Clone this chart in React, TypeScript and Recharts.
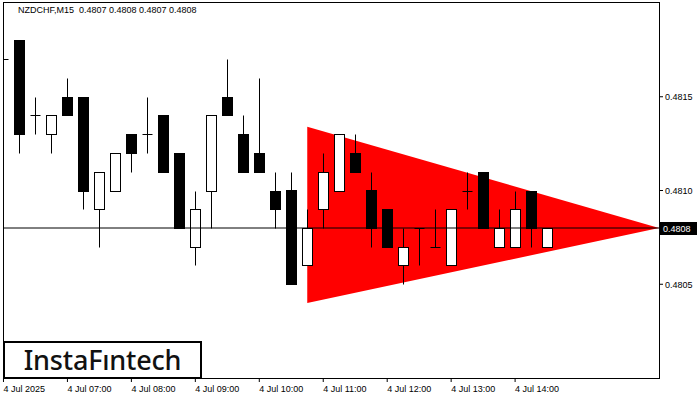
import React from 'react';
import { ComposedChart, Bar, Area, XAxis, YAxis, ReferenceLine } from 'recharts';

// NZDCHF M15 candles, 06:00 .. 14:30
const opens = [
  0.4817, 0.4818, 0.4814, 0.4813, 0.4815, 0.4815, 0.4809, 0.4810, 0.4813, 0.4813,
  0.4814, 0.4812, 0.4807, 0.4810, 0.4815, 0.4813, 0.4812, 0.4810, 0.4810, 0.4806,
  0.4809, 0.4810, 0.4812, 0.4810, 0.4809, 0.4806, 0.4808, 0.4807, 0.4806, 0.4810,
  0.4811, 0.4807, 0.4807, 0.4810, 0.4807,
];
const highs = [
  0.4818, 0.4818, 0.4815, 0.4814, 0.4816, 0.4815, 0.4811, 0.4812, 0.4813, 0.4815,
  0.4814, 0.4812, 0.4810, 0.4814, 0.4817, 0.4814, 0.4816, 0.4811, 0.4811, 0.4809,
  0.4812, 0.4813, 0.4813, 0.4811, 0.4809, 0.4808, 0.4808, 0.4809, 0.4809, 0.4811,
  0.4811, 0.4809, 0.4810, 0.4810, 0.4808,
];
const lows = [
  0.4816, 0.4812, 0.4813, 0.4812, 0.4814, 0.4809, 0.4807, 0.4810, 0.4811, 0.4812,
  0.4811, 0.4808, 0.4806, 0.4808, 0.4814, 0.4811, 0.4811, 0.4808, 0.4805, 0.4806,
  0.4808, 0.4810, 0.4811, 0.4807, 0.4807, 0.4805, 0.4806, 0.4807, 0.4806, 0.4809,
  0.4808, 0.4807, 0.4807, 0.4807, 0.4807,
];
const closes = [
  0.4817, 0.4813, 0.4814, 0.4814, 0.4814, 0.4810, 0.4811, 0.4812, 0.4812, 0.4813,
  0.4811, 0.4808, 0.4809, 0.4814, 0.4814, 0.4811, 0.4811, 0.4809, 0.4805, 0.4808,
  0.4811, 0.4813, 0.4811, 0.4808, 0.4807, 0.4807, 0.4808, 0.4807, 0.4809, 0.4810,
  0.4808, 0.4808, 0.4809, 0.4808, 0.4808,
];

const hourTicks = [0, 4, 8, 12, 16, 20, 24, 28, 32];
const hourLabels = [
  '4 Jul 2025', '4 Jul 07:00', '4 Jul 08:00', '4 Jul 09:00', '4 Jul 10:00',
  '4 Jul 11:00', '4 Jul 12:00', '4 Jul 13:00', '4 Jul 14:00',
];

const priceTicks = [0.4805, 0.4808, 0.481, 0.4815];
const lastPrice = 0.4808;

// bearish triangle pattern
const triStart = 19;
const triEnd = 41;
const triTop = 0.48134;
const triBottom = 0.4804;

const candles = opens.map((o, i) => ({
  i,
  open: o,
  high: highs[i],
  low: lows[i],
  close: closes[i],
  range: [lows[i], highs[i]],
}));

const triangle = [
  { i: triStart, band: [triBottom, triTop] },
  { i: triEnd, band: [lastPrice, lastPrice] },
];

const FONT = '"Liberation Sans", Arial, sans-serif';

const Candle = (props: any) => {
  const { x, y, width, height, payload } = props;
  if (!payload || height == null) return null;
  const { open, close, high, low } = payload;
  const k = height / (high - low);
  const py = (v: number) => y + (high - v) * k;
  const cx = Math.round(x + width / 2) + 0.5;
  const left = Math.round(x) + 0.5;
  const w = Math.round(width);
  const top = Math.round(py(Math.max(open, close))) + 0.5;
  const bot = Math.round(py(Math.min(open, close))) + 0.5;
  const hi = Math.round(py(high)) + 0.5;
  const lo = Math.round(py(low)) + 0.5;
  const bull = close > open;
  return (
    <g>
      <line x1={cx} x2={cx} y1={hi} y2={lo} stroke="#000" strokeWidth={1} />
      {open === close ? (
        <line x1={left} x2={left + w} y1={top} y2={top} stroke="#000" strokeWidth={1} />
      ) : (
        <rect
          x={left}
          y={top}
          width={w}
          height={bot - top}
          fill={bull ? '#fff' : '#000'}
          stroke="#000"
          strokeWidth={1}
        />
      )}
    </g>
  );
};

const TimeTick = (props: any) => {
  const { x, y, payload } = props;
  const idx = hourTicks.indexOf(payload.value);
  return (
    <text x={x} y={y + 8} textAnchor="start" fontSize={9} fontFamily={FONT} fill="#000">
      {hourLabels[idx]}
    </text>
  );
};

const PriceTick = (props: any) => {
  const { x, y, payload } = props;
  const v = payload.value;
  if (Math.abs(v - lastPrice) < 1e-7) {
    return (
      <g>
        <rect x={x - 5} y={y - 6} width={37} height={13} fill="#000" />
        <text x={x - 2} y={y + 3.5} fontSize={9} fontFamily={FONT} fill="#fff">
          {v.toFixed(4)}
        </text>
      </g>
    );
  }
  return (
    <text x={x} y={y + 3.5} fontSize={9} fontFamily={FONT} fill="#000">
      {v.toFixed(4)}
    </text>
  );
};

export default function App() {
  return (
    <div style={{ position: 'absolute', left: 0, top: 0, width: 700, height: 400, background: '#fff' }}>
      <ComposedChart
        width={700}
        height={400}
        data={candles}
        margin={{ top: 3, right: 0, left: 3, bottom: 0 }}
      >
        <XAxis
          dataKey="i"
          type="number"
          domain={[-0.03, 41]}
          allowDataOverflow
          ticks={hourTicks}
          interval={0}
          height={22}
          axisLine={false}
          tickSize={4}
          tickLine={{ stroke: '#000' }}
          tick={<TimeTick />}
        />
        <YAxis
          orientation="right"
          type="number"
          domain={[0.48, 0.482]}
          allowDataOverflow
          ticks={priceTicks}
          interval={0}
          width={41}
          axisLine={false}
          tickSize={4}
          tickLine={{ stroke: '#000' }}
          tick={<PriceTick />}
        />
        <Area
          data={triangle}
          dataKey="band"
          type="linear"
          stroke="none"
          fill="#ff0000"
          fillOpacity={1}
          isAnimationActive={false}
          dot={false}
          activeDot={false}
        />
        <ReferenceLine y={lastPrice} stroke="#000" strokeWidth={1} />
        <Bar dataKey="range" barSize={10} shape={<Candle />} isAnimationActive={false} />
      </ComposedChart>
      <div
        style={{
          position: 'absolute', left: 3, top: 2, width: 657, height: 377,
          border: '1px solid #000', boxSizing: 'border-box', pointerEvents: 'none',
        }}
      />
      <div
        style={{
          position: 'absolute', left: 18, top: 4, fontFamily: FONT, fontSize: 9,
          color: '#000', whiteSpace: 'pre', lineHeight: '12px',
        }}
      >
        {'NZDCHF,M15  0.4807 0.4808 0.4807 0.4808'}
      </div>
      <div
        style={{
          position: 'absolute', left: 3, top: 341, width: 199, height: 38,
          border: '2px solid #000', boxSizing: 'border-box', background: '#fff',
          display: 'flex', alignItems: 'center', justifyContent: 'center',
          fontFamily: '"Noto Sans", sans-serif', fontSize: 27, fontWeight: 500,
          color: '#111', letterSpacing: '-0.2px', paddingBottom: 1,
        }}
      >
        InstaFıntech
      </div>
    </div>
  );
}
